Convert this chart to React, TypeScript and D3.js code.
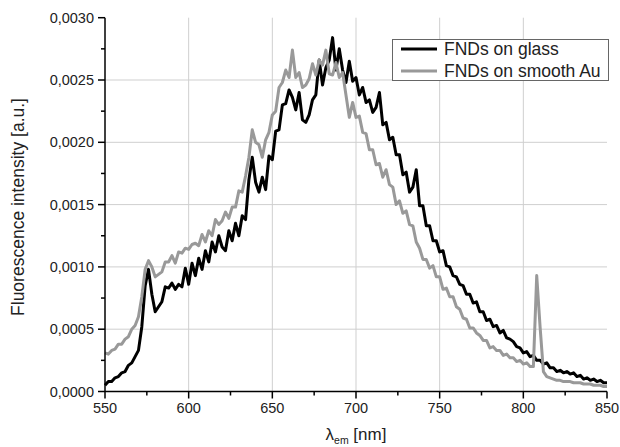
import React from "react";
import * as d3 from "d3";

const startNm = 550;
const stepNm = 2;

// FNDs on glass (every 2 nm from 550 to 850)
const glass = [
  0.00005, 0.00008, 0.00008, 0.00011, 0.00012, 0.00015, 0.00016, 0.00021, 0.00023, 0.00028,
  0.00033, 0.00052, 0.00085, 0.00098, 0.00078, 0.00064, 0.00068, 0.00072, 0.00084, 0.00083,
  0.00087, 0.00082, 0.00086, 0.00084, 0.00099, 0.00086, 0.00103, 0.00093, 0.00107, 0.00098,
  0.00113, 0.00104, 0.0012, 0.00112, 0.00125, 0.00116, 0.00113, 0.00129, 0.00121, 0.00135,
  0.00125, 0.00141, 0.00138, 0.0017, 0.00188, 0.00168, 0.0016, 0.00172, 0.00162, 0.00189,
  0.00186, 0.00209, 0.0021, 0.0023, 0.00231, 0.00242, 0.00236, 0.00226, 0.0024, 0.00218,
  0.00216, 0.00222, 0.00234, 0.00238, 0.00266, 0.00246, 0.0026, 0.00266, 0.00284, 0.00258,
  0.00275, 0.00258, 0.00248, 0.00265, 0.00249, 0.00252, 0.00238, 0.00244, 0.00232, 0.00234,
  0.00224, 0.00228, 0.0024, 0.00214, 0.00216, 0.00202, 0.00204, 0.0019, 0.0019, 0.00174,
  0.00176, 0.0016, 0.00164, 0.00178, 0.00149, 0.00149, 0.00133, 0.00133, 0.00121, 0.00121,
  0.00112, 0.00113, 0.00101, 0.001, 0.00093, 0.00092, 0.00086, 0.00085, 0.00078, 0.00078,
  0.00071, 0.00072, 0.00064, 0.00064, 0.00057, 0.00058, 0.00052, 0.00053, 0.00047, 0.00049,
  0.00043, 0.00042, 0.0004, 0.00036, 0.00035, 0.00031, 0.00032, 0.00028, 0.00029, 0.00025,
  0.00025, 0.00022, 0.00023, 0.00019, 0.00019, 0.00016, 0.00017, 0.00015, 0.00016, 0.00014,
  0.00015, 0.00012, 0.00013, 0.0001, 0.00011, 0.00009, 0.0001, 0.00008, 0.00009, 0.00007,
  0.00007,
];

// FNDs on smooth Au (every 2 nm from 550 to 850)
const gold = [
  0.00031, 0.0003, 0.00033, 0.00034, 0.00038, 0.00038, 0.00042, 0.00044, 0.0005, 0.00053,
  0.0006, 0.00076, 0.00098, 0.00105, 0.001, 0.00092, 0.00094, 0.00096, 0.00104, 0.00104,
  0.00109, 0.00103, 0.00112, 0.00111, 0.00115, 0.00114, 0.00118, 0.00119, 0.00117, 0.00126,
  0.0012, 0.00129, 0.00125, 0.00138, 0.00134, 0.00137, 0.00144, 0.00139, 0.00148, 0.00148,
  0.00161, 0.0016, 0.00173, 0.00188, 0.0021, 0.002, 0.00198, 0.00188, 0.00202, 0.00208,
  0.00222, 0.00225, 0.00244, 0.00248, 0.00258, 0.00252, 0.00274, 0.00252, 0.00256, 0.00244,
  0.00246, 0.00251, 0.00263, 0.00254, 0.00266, 0.00262, 0.00274, 0.00255, 0.00254, 0.00264,
  0.00252, 0.00256, 0.00238, 0.0022, 0.00232, 0.0022, 0.00221, 0.00208, 0.00207, 0.00194,
  0.00194, 0.00182, 0.00183, 0.00172, 0.00178, 0.00166, 0.00164, 0.0015, 0.00153, 0.00143,
  0.00145, 0.00134, 0.00133, 0.0012, 0.00115, 0.00106, 0.00106, 0.00099, 0.00101, 0.00092,
  0.00092, 0.00082, 0.00083, 0.00076, 0.00076, 0.00068, 0.00066, 0.00059, 0.00058, 0.00051,
  0.00051, 0.00047, 0.00045, 0.00041, 0.00041, 0.00035, 0.00036, 0.00033, 0.00033, 0.00029,
  0.0003, 0.00027, 0.00027, 0.00024, 0.00025, 0.00022, 0.00023, 0.0002, 0.0002, 0.00093,
  0.00052, 0.00016, 0.00012, 0.00011, 0.0001, 0.00009, 0.00009, 0.00008, 0.00008, 0.00008,
  0.00007, 0.00007, 0.00007, 0.00006, 0.00006, 0.00006, 0.00005, 0.00005, 0.00005, 0.00004,
  0.00004,
];

const xTicks = [550, 600, 650, 700, 750, 800, 850];
const xMinor = [575, 625, 675, 725, 775, 825];
const yTicks = [0, 0.0005, 0.001, 0.0015, 0.002, 0.0025, 0.003];
const yMinor = [0.00025, 0.00075, 0.00125, 0.00175, 0.00225, 0.00275];
const seriesNames = ["FNDs on glass", "FNDs on smooth Au"];
const seriesColors = ["#000000", "#999999"];

const W = 620;
const H = 447;
const left = 105;
const right = 607;
const top = 17.7;
const bottom = 391.5;

export default function App() {
  const x = d3.scaleLinear().domain([550, 850]).range([left, right]);
  const y = d3.scaleLinear().domain([0, 0.003]).range([bottom, top]);
  const fmt = (v: number) => v.toFixed(4).replace(".", ",");

  const line = d3
    .line<number>()
    .x((_, i) => x(startNm + i * stepNm))
    .y((d) => y(d));

  const font = "Liberation Sans, Arial, sans-serif";

  return (
    <svg
      width={W}
      height={H}
      style={{ position: "absolute", left: 0, top: 0, background: "#fff" }}
      fontFamily={font}
    >
      <rect x={0} y={0} width={W} height={H} fill="#fff" />
      {/* grid */}
      {xTicks.slice(1, -1).map((t) => (
        <line key={"gx" + t} x1={x(t)} x2={x(t)} y1={top} y2={bottom} stroke="#cfcfcf" strokeWidth={1} />
      ))}
      {yTicks.slice(1, -1).map((t) => (
        <line key={"gy" + t} x1={left} x2={right} y1={y(t)} y2={y(t)} stroke="#cfcfcf" strokeWidth={1} />
      ))}

      {/* series */}
      <path d={line(glass) || ""} fill="none" stroke={seriesColors[0]} strokeWidth={3} strokeLinejoin="round" />
      <path d={line(gold) || ""} fill="none" stroke={seriesColors[1]} strokeWidth={3} strokeLinejoin="round" />

      {/* axes */}
      <line x1={left} x2={left} y1={top} y2={bottom} stroke="#000" strokeWidth={1.5} />
      <line x1={left} x2={right} y1={bottom} y2={bottom} stroke="#000" strokeWidth={1.5} />
      {yTicks.map((t) => (
        <g key={"yt" + t}>
          <line x1={left - 7} x2={left} y1={y(t)} y2={y(t)} stroke="#000" strokeWidth={1.5} />
          <text x={left - 11} y={y(t) + 5} textAnchor="end" fontSize={14.5} fill="#222">
            {fmt(t)}
          </text>
        </g>
      ))}
      {yMinor.map((t) => (
        <line key={"ym" + t} x1={left - 4} x2={left} y1={y(t)} y2={y(t)} stroke="#000" strokeWidth={1.5} />
      ))}
      {xTicks.map((t) => (
        <g key={"xt" + t}>
          <line x1={x(t)} x2={x(t)} y1={bottom} y2={bottom + 7} stroke="#000" strokeWidth={1.5} />
          <text x={x(t)} y={bottom + 21} textAnchor="middle" fontSize={14.5} fill="#222">
            {t}
          </text>
        </g>
      ))}
      {xMinor.map((t) => (
        <line key={"xm" + t} x1={x(t)} x2={x(t)} y1={bottom} y2={bottom + 4} stroke="#000" strokeWidth={1.5} />
      ))}

      {/* axis titles */}
      <text
        transform={`translate(24,207) rotate(-90)`}
        textAnchor="middle"
        fontSize={17.5}
        fill="#222"
      >
        Fluorescence intensity [a.u.]
      </text>
      <text x={356} y={440} textAnchor="middle" fontSize={17} fill="#222">
        λ<tspan fontSize={10.5} dy={4}>em</tspan>
        <tspan dy={-4}> [nm]</tspan>
      </text>

      {/* legend */}
      <rect x={392.5} y={39.5} width={216} height={41} fill="#fff" stroke="#666" strokeWidth={1} />
      {seriesNames.map((n, i) => (
        <g key={n}>
          <line x1={401} x2={437} y1={49 + i * 22} y2={49 + i * 22} stroke={seriesColors[i]} strokeWidth={3} />
          <text x={444} y={49 + i * 22 + 6} fontSize={17.5} fill="#222">
            {n}
          </text>
        </g>
      ))}
    </svg>
  );
}
